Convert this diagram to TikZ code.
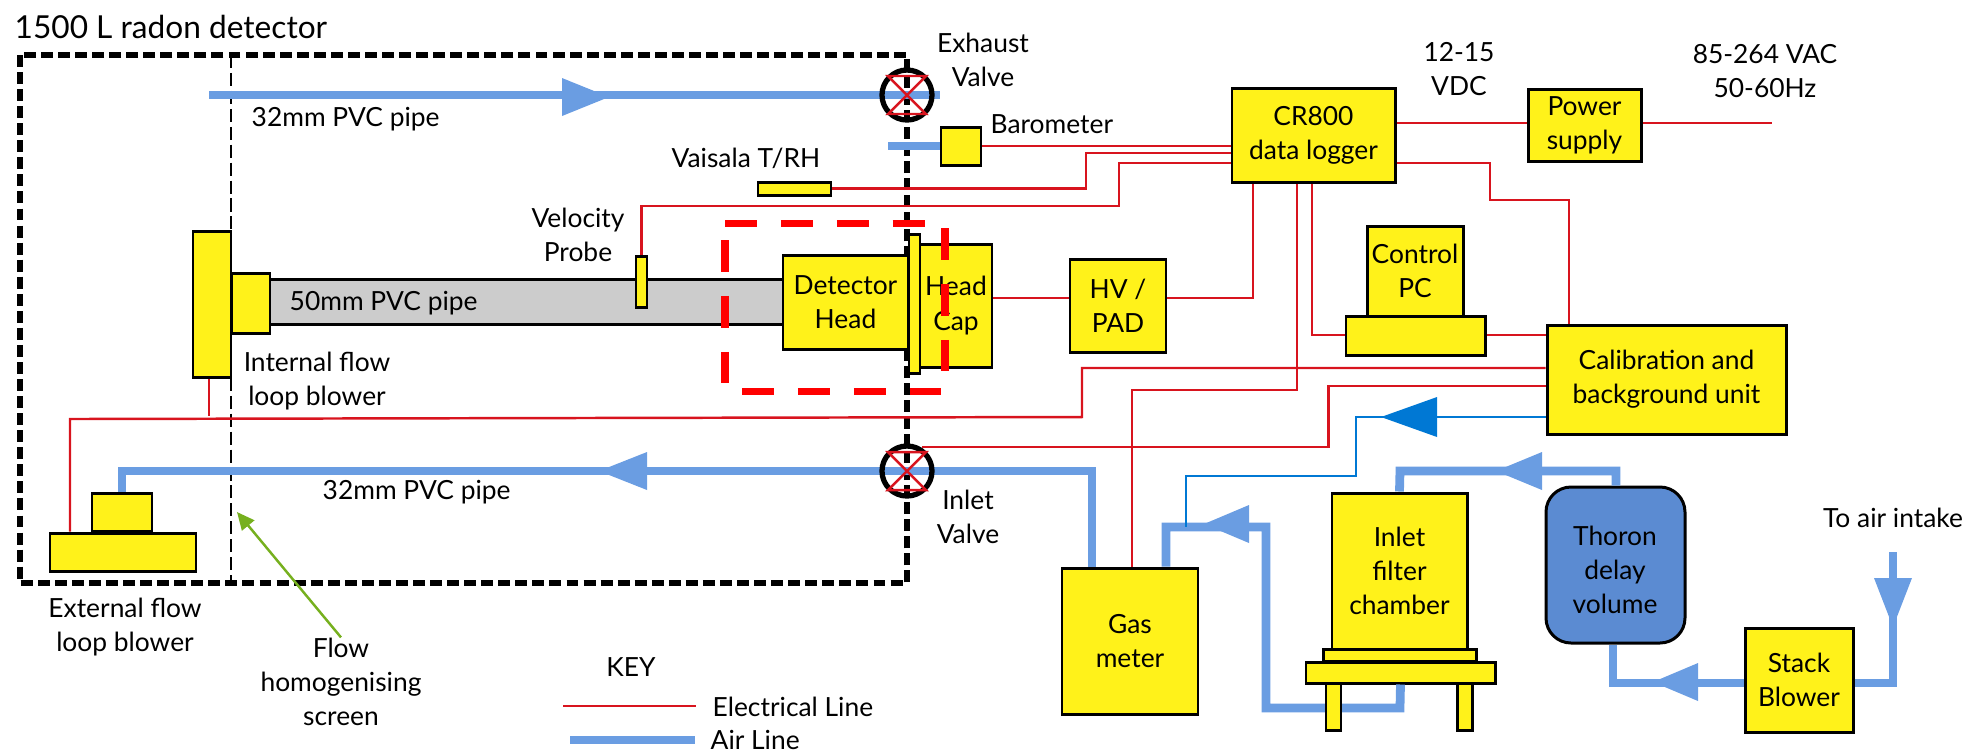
\documentclass[tikz,border=0pt]{standalone}
\usepackage{fontspec}
\setmainfont{Lato}
\usetikzlibrary{arrows.meta}
\definecolor{unityellow}{HTML}{FFF21A}
\definecolor{airblue}{HTML}{6A9DE2}
\definecolor{elecred}{HTML}{D8141E}
\definecolor{calblue}{HTML}{0078D4}
\definecolor{thoronblue}{HTML}{5B8BD2}
\definecolor{pipegray}{HTML}{CCCCCC}
\definecolor{arrowgreen}{HTML}{76B01E}
\tikzset{
    boxsize/.style 2 args={minimum width=#1*0.01cm,minimum height=#2*0.01cm},
    lbl/.style={inner sep=0pt,align=center,font=\fontsize{7.5}{9.7}\selectfont},
    unit/.style={lbl,draw,fill=unityellow,line width=0.85pt},
    valve/.style={circle,draw,line width=1.5pt,inner sep=0pt,minimum size=0.5cm},
    elec/.style={elecred,line width=0.7pt},
    air/.style={airblue,line width=2.5pt},
    cal/.style={calblue,line width=0.7pt},
    reddash/.style={red,line width=2pt,dash pattern=on 9.1pt off 6.8pt},
}
\begin{document}
\begin{tikzpicture}[x=0.01cm,y=-0.01cm]
    \useasboundingbox (0,0) rectangle (1974,753);
    %detector boundary and screen
    \draw[line width=1.6pt,dash pattern=on 3.4pt off 1.45pt] (20,55) rectangle (907,583);
    \draw[line width=0.6pt,dash pattern=on 3.7pt off 1.4pt] (231,55) -- (231,583);
    %free ends
    \coordinate (exstart) at (209,95);
    \coordinate (exend) at (940,95);
    \coordinate (barostub) at (888,146);
    \coordinate (mains) at (1772,123);
    \coordinate (intake) at (1893,552);
    \coordinate (screentip) at (237,512);
    \coordinate (keyelecA) at (563,706);
    \coordinate (keyelecB) at (696,706);
    \coordinate (keyairA) at (570,740);
    \coordinate (keyairB) at (695,740);
    %units
    \node[unit,boxsize={513}{45},fill=pipegray] (pipe) at (526.5,301.5) {};
    \node[unit,boxsize={38}{146}] (intblower) at (212,304) {};
    \node[unit,boxsize={38}{60}] (intfan) at (251,303) {};
    \node[unit,boxsize={11}{51}] (probe) at (641.5,281.5) {};
    \node[unit,boxsize={125}{94}] (dethead) at (845.5,302) {Detector\\Head};
    \node[unit,boxsize={72}{123}] (headcap) at (956,305.5) {Head\\Cap};
    \node[unit,boxsize={11}{139}] (plate) at (914.5,303.5) {};
    \node[unit,boxsize={96}{93}] (hvpad) at (1118,305.5) {HV /\\PAD};
    \node[unit,boxsize={40}{38}] (baro) at (961,146) {};
    \node[unit,boxsize={73}{13}] (vaisala) at (794.5,188.5) {};
    \node[unit,boxsize={163}{94}] (logger) at (1313.5,135) {CR800\\data logger};
    \node[unit,boxsize={113}{72}] (power) at (1584.5,125) {Power\\supply};
    \node[unit,boxsize={96}{90}] (pc) at (1415,271) {Control\\PC};
    \node[unit,boxsize={139.5}{39}] (pcbase) at (1415.75,335.5) {};
    \node[unit,boxsize={239}{109}] (calib) at (1666.5,379.5) {Calibration and\\background unit};
    \node[unit,boxsize={60}{38}] (extfan) at (122,512) {};
    \node[unit,boxsize={146}{38}] (extbase) at (123,552) {};
    \node[unit,boxsize={136}{146}] (gas) at (1130,641) {Gas\\meter};
    \node[unit,boxsize={135}{156}] (filter) at (1399.5,571) {Inlet\\filter\\chamber};
    \node[unit,boxsize={153.5}{12}] (shelf) at (1400,655) {};
    \node[unit,boxsize={189}{21}] (flange) at (1400.5,672.5) {};
    \node[unit,boxsize={139}{156},fill=thoronblue,rounded corners=0.25cm] (thoron) at (1615.5,565) {};
    \node[lbl] (thorontext) at (1615,570) {Thoron\\delay\\volume};
    \node[unit,boxsize={108}{104}] (stack) at (1799,680) {Stack\\Blower};
    %air lines
    \draw[air] (exstart) -- (exend);
    \draw[air] (barostub) -- (baro.west);
    \draw[air] (1092,0 |- gas.north) -- (1092,471) -- (122,471) -- (extfan.north);
    \draw[air] (1166,0 |- gas.north) -- (1166,527) -- (1266,527) -- (1266,708) -- (1400,708) -- (flange.south);
    \draw[air] (1616,0 |- thoron.north) -- (1616,471) -- (1400,471) -- (filter.north);
    \draw[air] (1613,0 |- thoron.south) -- (1613,683) -- (stack.west |- 0,683);
    \draw[air] (stack.east |- 0,683) -- (1893,683) -- (intake);
    \foreach \bx/\tx/\y in {562/609/97,647/599/471,1249/1204/524,1542/1496/471,1698/1653/682}
        {%
            \fill[airblue] (\bx,\y-19) -- (\tx,\y) -- (\bx,\y+19) -- cycle;
        }
    \fill[airblue] (1874,578) -- (1893,627) -- (1912,578) -- cycle;
    %legs sit over the air line
    \node[unit,boxsize={15}{47}] (legA) at (1333.5,706.5) {};
    \node[unit,boxsize={15}{47}] (legB) at (1464.5,706.5) {};
    %valves
    \node[valve] (exhaust) at (907,95) {};
    \node[valve] (inlet) at (907,471) {};
    %electrical lines
    \draw[elec] (baro.east) -- (baro.east -| logger.west);
    \draw[elec] (vaisala.east) -- (1086,188.5) -- (1086,153) -- (logger.west |- 0,153);
    \draw[elec] (probe.north) -- (641.5,206) -- (1119,206) -- (1119,163) -- (logger.west |- 0,163);
    \draw[elec] (headcap.east |- 0,298) -- (hvpad.west |- 0,298);
    \draw[elec] (hvpad.east |- 0,298) -- (1253,298) -- (1253,0 |- logger.south);
    \draw[elec] (logger.east |- 0,123) -- (power.west |- 0,123);
    \draw[elec] (power.east |- 0,123) -- (mains);
    \draw[elec] (logger.east |- 0,163) -- (1490,163) -- (1490,200) -- (1569,200) -- (1569,0 |- calib.north);
    \draw[elec] (1312,0 |- logger.south) -- (1312,335) -- (pcbase.west |- 0,335);
    \draw[elec] (pcbase.east |- 0,335) -- (calib.west |- 0,335);
    \draw[elec] (1297,0 |- logger.south) -- (1297,390) -- (1132,390) -- (1132,0 |- gas.north);
    \draw[elec] (calib.west |- 0,368) -- (1082,368) -- (1082,417) -- (70,419) -- (70,0 |- extbase.north);
    \draw[elec] (209,0 |- intblower.south) -- (209,416);
    \draw[elec] (calib.west |- 0,386) -- (1328.5,386) -- (1328.5,447) -- (922,447);
    \draw[cal] (calib.west |- 0,417) -- (1356,417) -- (1356,476) -- (1186,476) -- (1186,527);
    \fill[calblue] (1437,397) -- (1381,417) -- (1437,437) -- cycle;
    \foreach \v in {exhaust,inlet}
        {%
            \draw[elec] ([shift={(-19,-19)}]\v.center) -- ([shift={(19,-19)}]\v.center)
                -- ([shift={(-19,19)}]\v.center) -- ([shift={(19,19)}]\v.center) -- cycle;
        }
    %red dashed outline
    \draw[reddash] (725,223) -- (925,223);
    \draw[reddash] (742,391) -- (941,391);
    \draw[reddash] (725,240) -- (725,383);
    \draw[reddash] (945,228) -- (945,371);
    %labels
    \node[lbl,anchor=west,font=\fontsize{9}{11}\selectfont] (title) at (14,27) {1500 L radon detector};
    \node[lbl,anchor=west] (toppipe) at (251,119) {32mm PVC pipe};
    \node[lbl,anchor=west] (midpipe) at (289,303) {50mm PVC pipe};
    \node[lbl,anchor=west] (lowpipe) at (322,492) {32mm PVC pipe};
    \node[lbl] (exhausttext) at (983,60) {Exhaust\\Valve};
    \node[lbl] (vdc) at (1459,69) {12-15\\VDC};
    \node[lbl] (vac) at (1765,71) {85-264 VAC\\50-60Hz};
    \node[lbl,anchor=west] (barotext) at (990,124) {Barometer};
    \node[lbl,anchor=west] (vaisalatext) at (671,158) {Vaisala T/RH};
    \node[lbl] (probetext) at (578,235) {Velocity\\Probe};
    \node[lbl] (intext) at (317,381) {Internal flow\\loop blower};
    \node[lbl] (inlettext) at (968,517) {Inlet\\Valve};
    \node[lbl] (exttext) at (125,627) {External flow\\loop blower};
    \node[lbl] (flowtext) at (341,682) {Flow\\homogenising\\screen};
    \node[lbl] (keytext) at (631,667) {KEY};
    \node[lbl,anchor=west] (electext) at (712,707) {Electrical Line};
    \node[lbl,anchor=west] (airtext) at (710,740) {Air Line};
    \node[lbl] (intaketext) at (1893,518) {To air intake};
    %screen pointer and key
    \draw[-{Triangle[length=5pt,width=4.5pt]},arrowgreen,line width=0.7pt] (flowtext.north) -- (screentip);
    \draw[elec] (keyelecA) -- (keyelecB);
    \draw[air] (keyairA) -- (keyairB);
\end{tikzpicture}
\end{document}
